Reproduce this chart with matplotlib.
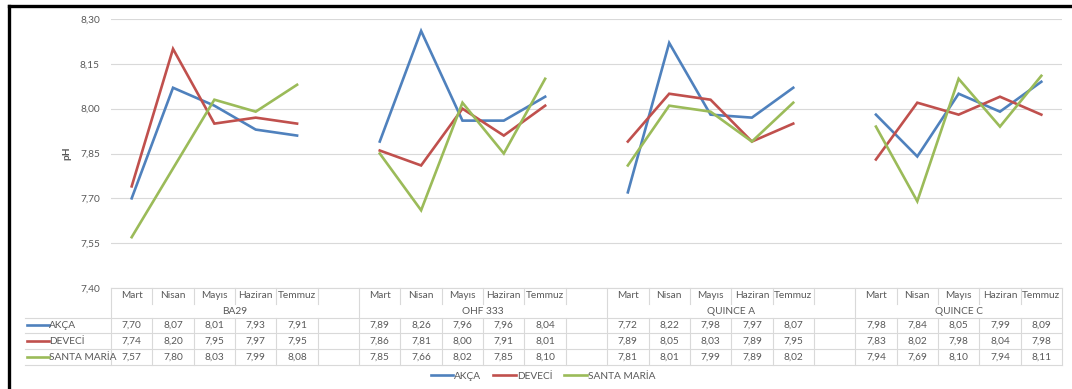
import numpy as np
import matplotlib
matplotlib.use('Agg')
import matplotlib.pyplot as plt
from matplotlib.lines import Line2D
from matplotlib.transforms import blended_transform_factory

MONTHS = ['Mart', 'Nisan', 'Mayıs', 'Haziran', 'Temmuz']
GROUPS = ['BA29', 'OHF 333', 'QUINCE A', 'QUINCE C']
SERIES = ['AKÇA', 'DEVECİ', 'SANTA MARİA']

akca = [
    [7.70, 8.07, 8.01, 7.93, 7.91],
    [7.89, 8.26, 7.96, 7.96, 8.04],
    [7.72, 8.22, 7.98, 7.97, 8.07],
    [7.98, 7.84, 8.05, 7.99, 8.09],
]
deveci = [
    [7.74, 8.20, 7.95, 7.97, 7.95],
    [7.86, 7.81, 8.00, 7.91, 8.01],
    [7.89, 8.05, 8.03, 7.89, 7.95],
    [7.83, 8.02, 7.98, 8.04, 7.98],
]
santa_maria = [
    [7.57, 7.80, 8.03, 7.99, 8.08],
    [7.85, 7.66, 8.02, 7.85, 8.10],
    [7.81, 8.01, 7.99, 7.89, 8.02],
    [7.94, 7.69, 8.10, 7.94, 8.11],
]
ALL = [akca, deveci, santa_maria]
COLORS = ['#4F81BD', '#C0504D', '#9BBB59']

TXT = '#595959'
GRID = '#D9D9D9'
FONT = 'Lato'
FS = 7.3

W, H = 1072, 389
fig = plt.figure(figsize=(W / 100, H / 100), dpi=100)
fig.patch.set_facecolor('white')


def fy(py):
    return 1 - py / H


# plot area in pixels: x 111..1062, y 19..288
ax = fig.add_axes([111 / W, fy(288), (1062 - 111) / W, (288 - 19) / H])

# category positions: 5 months per group plus one empty column between groups
n_groups = len(GROUPS)
group_start = [g * (len(MONTHS) + 1) for g in range(n_groups)]
n_cats = group_start[-1] + len(MONTHS)

handles = []
for vals, col, name in zip(ALL, COLORS, SERIES):
    for g, start in enumerate(group_start):
        xs = np.arange(start, start + len(MONTHS))
        ln, = ax.plot(xs, vals[g], color=col, lw=1.9, solid_joinstyle='miter',
                      label=name if g == 0 else None, zorder=3)
        if g == 0:
            handles.append(ln)

ax.set_xlim(-0.5, n_cats - 0.5)
ax.set_ylim(7.40, 8.30)
yt = np.arange(7.40, 8.301, 0.15)
ax.set_yticks(yt)
ax.set_yticklabels([f'{v:.2f}'.replace('.', ',') for v in yt],
                   fontsize=FS, color=TXT, family=FONT)
ax.tick_params(axis='y', length=0, pad=8)
ax.set_xticks([])
ax.grid(axis='y', color=GRID, lw=0.8, zorder=0)
for s in ax.spines.values():
    s.set_visible(False)
ax.set_ylabel('pH', fontsize=FS, color=TXT, family=FONT, fontweight='bold', labelpad=6)

# ── data table below the plot ──
tr = blended_transform_factory(ax.transData, fig.transFigure)
xl, xr = -0.5, n_cats - 0.5
unit = (1062 - 111) / n_cats
x_key = xl - (111 - 25) / unit

y_top, y_mid, y_grp, y_r1, y_r2, y_bot = 288, 304, 318, 333, 349, 365
row_c = [325, 341, 357]


def hline(x0, x1, py):
    fig.add_artist(Line2D([x0, x1], [fy(py), fy(py)], transform=tr, color=GRID, lw=0.8))


def vline(x, p0, p1):
    fig.add_artist(Line2D([x, x], [fy(p0), fy(p1)], transform=tr, color=GRID, lw=0.8))


hline(xl, xr, y_top)
for py in (y_grp, y_r1, y_r2, y_bot):
    hline(x_key, xr, py)

group_edges = [s - 0.5 for s in group_start] + [xr]
for c in range(n_cats + 1):
    x = c - 0.5
    if x in group_edges:
        vline(x, y_top, y_bot)
    else:
        vline(x, y_top, y_mid)
        vline(x, y_grp, y_bot)

for g, start in enumerate(group_start):
    for i, m in enumerate(MONTHS):
        fig.text(start + i, fy(296), m, transform=tr, ha='center', va='center',
                 fontsize=FS, color=TXT, family=FONT)
    last = group_start[g + 1] - 1 if g + 1 < n_groups else start + len(MONTHS) - 1
    fig.text((start + last) / 2, fy(311), GROUPS[g], transform=tr, ha='center',
             va='center', fontsize=FS, color=TXT, family=FONT)
    for r, vals in enumerate(ALL):
        for i, v in enumerate(vals[g]):
            fig.text(start + i, fy(row_c[r]), f'{v:.2f}'.replace('.', ','), transform=tr,
                     ha='center', va='center', fontsize=FS, color=TXT, family=FONT)

# legend keys inside the table
for r, (name, col) in enumerate(zip(SERIES, COLORS)):
    k0 = x_key + 2 / unit
    k1 = x_key + 24 / unit
    fig.add_artist(Line2D([k0, k1], [fy(row_c[r]), fy(row_c[r])], transform=tr, color=col, lw=1.9))
    fig.text(k1, fy(row_c[r]), name, transform=tr, ha='left', va='center',
             fontsize=FS, color=TXT, family=FONT)

# bottom legend
fig.legend(handles=handles, loc='center', bbox_to_anchor=(543 / W, fy(376)), ncol=3,
           frameon=False, handlelength=2.2, columnspacing=1.2, handletextpad=0.1,
           prop={'family': FONT, 'size': FS}, labelcolor=TXT)

# frame (left and top edges of the screenshot)
fig.add_artist(Line2D([9 / W, 9 / W], [0, fy(6)], color='black', lw=2.4))
fig.add_artist(Line2D([9 / W, 1], [fy(6), fy(6)], color='black', lw=2.4))

fig.savefig('out.png', dpi=100, facecolor='white')
